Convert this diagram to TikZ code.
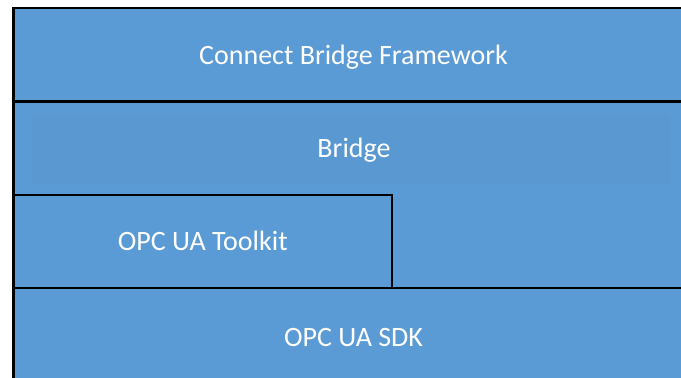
\documentclass[tikz,border=0pt]{standalone}
\usepackage{fontspec}
\setmainfont{Carlito}
\definecolor{layerblue}{HTML}{5B9BD5}
\begin{document}
\begin{tikzpicture}[x=1pt,y=-1pt,
  layer/.style={draw=black, line width=2.2pt, fill=layerblue, inner sep=0pt,
    rectangle, anchor=center},
  caption/.style={text=white, font=\fontsize{28}{30}\selectfont, inner sep=0pt,
    anchor=base}]
\useasboundingbox (0,0) rectangle (681,378);
\clip (0,0) rectangle (681,378);
\fill[white] (0,0) rectangle (681,378);
% stack of layers, top to bottom
\node[layer, minimum width=680pt, minimum height=93.5pt] (cbf) at (353.5,54.75) {};
\node[layer, minimum width=680pt, minimum height=186.5pt] (bridge) at (353.5,194.75) {};
\node[layer, minimum width=680pt, minimum height=98pt] (sdk) at (353.5,337) {};
\node[layer, minimum width=378.5pt, minimum height=93pt] (toolkit) at (202.75,241.5) {};
% faint inner panel of the bridge layer
\fill[black, opacity=0.015] (32,115) rectangle (670,185);
% layer captions, baselines placed so capitals sit centred in each band
\node[caption] (cbftext) at (353.5,64) {Connect Bridge Framework};
\node[caption] (bridgetext) at (354,157.7) {Bridge};
\node[caption] (toolkittext) at (202.75,250.75) {OPC UA Toolkit};
\node[caption] (sdktext) at (353.5,346.2) {OPC UA SDK};
\end{tikzpicture}
\end{document}
